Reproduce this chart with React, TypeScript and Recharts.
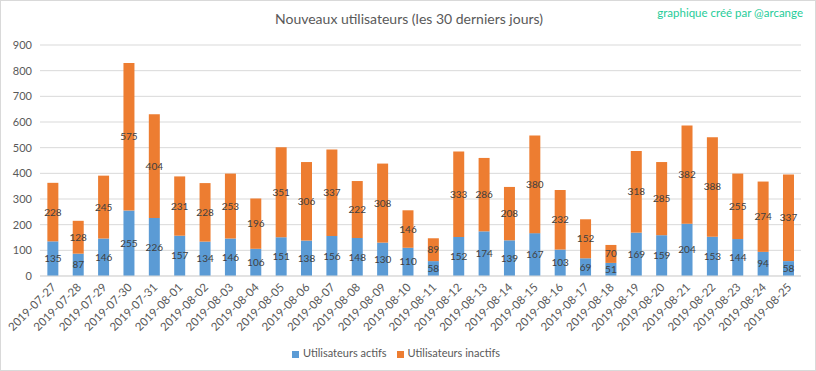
import React from "react"
import {
  BarChart,
  Bar,
  XAxis,
  YAxis,
  CartesianGrid,
  Legend,
  LabelList,
} from "recharts"

if (typeof document !== "undefined") {
  document.body.style.margin = "0"
}

const dates = [
  "2019-07-27", "2019-07-28", "2019-07-29", "2019-07-30", "2019-07-31",
  "2019-08-01", "2019-08-02", "2019-08-03", "2019-08-04", "2019-08-05",
  "2019-08-06", "2019-08-07", "2019-08-08", "2019-08-09", "2019-08-10",
  "2019-08-11", "2019-08-12", "2019-08-13", "2019-08-14", "2019-08-15",
  "2019-08-16", "2019-08-17", "2019-08-18", "2019-08-19", "2019-08-20",
  "2019-08-21", "2019-08-22", "2019-08-23", "2019-08-24", "2019-08-25",
]

const actifs = [
  135, 87, 146, 255, 226, 157, 134, 146, 106, 151,
  138, 156, 148, 130, 110, 58, 152, 174, 139, 167,
  103, 69, 51, 169, 159, 204, 153, 144, 94, 58,
]

const inactifs = [
  228, 128, 245, 575, 404, 231, 228, 253, 196, 351,
  306, 337, 222, 308, 146, 89, 333, 286, 208, 380,
  232, 152, 70, 318, 285, 382, 388, 255, 274, 337,
]

const yTicks = [0, 100, 200, 300, 400, 500, 600, 700, 800, 900]

const FONT = "Lato, 'Open Sans', sans-serif"
const GREY = "#595959"

const data = dates.map((d, i) => ({
  date: d,
  actifs: actifs[i],
  inactifs: inactifs[i],
}))

function DateTick(props: any) {
  const { x, y, payload } = props
  return (
    <g transform={`translate(${x + 4},${y + 4})`}>
      <text
        textAnchor="end"
        transform="rotate(-45)"
        fontSize={11.5}
        fill={GREY}
        fontFamily={FONT}
      >
        {payload.value}
      </text>
    </g>
  )
}

export default function App() {
  return (
    <div
      style={{
        position: "relative",
        width: 816,
        height: 371,
        background: "#fff",
        boxSizing: "border-box",
        border: "1px solid #d9d9d9",
        fontFamily: FONT,
      }}
    >
      <div
        style={{
          position: "absolute",
          top: 9,
          left: 0,
          width: 816,
          textAlign: "center",
          fontSize: 14,
          color: GREY,
        }}
      >
        Nouveaux utilisateurs (les 30 derniers jours)
      </div>
      <div
        style={{
          position: "absolute",
          top: 5,
          right: 12,
          fontSize: 11.5,
          color: "#1fcc99",
        }}
      >
        graphique créé par @arcange
      </div>
      <BarChart
        width={814}
        height={369}
        data={data}
        margin={{ top: 44, right: 14, left: 0, bottom: 0 }}
        barCategoryGap="29%"
      >
        <CartesianGrid vertical={false} stroke="#d9d9d9" />
        <XAxis
          dataKey="date"
          interval={0}
          tickLine={false}
          axisLine={{ stroke: "#d9d9d9" }}
          tick={<DateTick />}
          height={70}
        />
        <YAxis
          domain={[0, 900]}
          ticks={yTicks}
          tickLine={false}
          axisLine={false}
          width={39}
          tick={{ fontSize: 11, fill: GREY, fontFamily: FONT }}
        />
        <Legend
          verticalAlign="bottom"
          iconType="square"
          iconSize={7}
          wrapperStyle={{ fontSize: 11, color: GREY, paddingBottom: 11 }}
          formatter={(v) => <span style={{ color: GREY }}>{v}</span>}
        />
        <Bar
          dataKey="actifs"
          name="Utilisateurs actifs"
          stackId="a"
          fill="#5b9bd5"
          isAnimationActive={false}
        >
          <LabelList
            dataKey="actifs"
            position="center"
            fontSize={10}
            fill="#404040"
            fontFamily={FONT}
          />
        </Bar>
        <Bar
          dataKey="inactifs"
          name="Utilisateurs inactifs"
          stackId="a"
          fill="#ed7d31"
          isAnimationActive={false}
        >
          <LabelList
            dataKey="inactifs"
            position="center"
            fontSize={10}
            fill="#404040"
            fontFamily={FONT}
          />
        </Bar>
      </BarChart>
    </div>
  )
}
